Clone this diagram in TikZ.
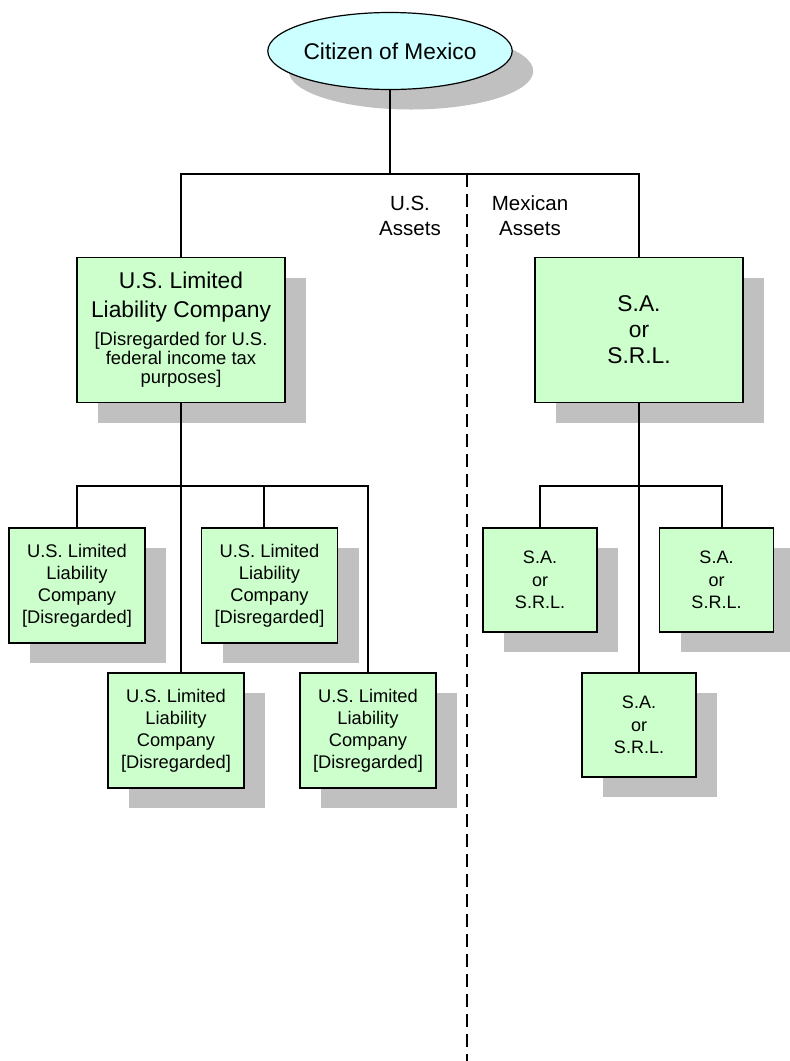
\documentclass[tikz,border=0pt]{standalone}
\usepackage{fontspec}
\setmainfont{Liberation Sans}
\usepackage{tikz}
\usetikzlibrary{shapes.geometric,shadows}

\definecolor{boxgreen}{HTML}{CCFFCC}
\definecolor{ovalcyan}{HTML}{CCFFFF}
\definecolor{shadowgray}{HTML}{C0C0C0}

\newcommand{\bigsz}{\fontsize{22.8}{29}\selectfont}

\tikzset{
	boxshadow/.style={drop shadow={shadow xshift=21pt, shadow yshift=-20pt, fill=shadowgray, opacity=1}},
	entity/.style={draw, line width=1.5pt, fill=boxgreen, align=center, inner sep=0pt, boxshadow},
	bigbox/.style={entity, minimum width=208pt, minimum height=145pt, font=\fontsize{18.4}{19}\selectfont},
	llcbox/.style={entity, minimum width=136pt, minimum height=115pt, font=\fontsize{18.3}{22}\selectfont},
	sabox/.style={entity, minimum width=114pt, minimum height=104pt, font=\fontsize{18}{22.5}\selectfont},
	assets/.style={align=center, inner sep=0pt, font=\fontsize{20.5}{25}\selectfont},
	link/.style={draw, line width=1.3pt},
	divider/.style={draw, line width=2pt, dash pattern=on 13pt off 7pt},
}

\begin{document}
\begin{tikzpicture}[x=1pt, y=-1pt]
		\useasboundingbox (0,0) rectangle (790,1061);
		
		\node[ellipse, draw, line width=1.2pt, fill=ovalcyan, minimum width=209pt, minimum height=77pt, inner sep=0pt, boxshadow, font=\fontsize{22.7}{27}\selectfont] (cit) at (390,51) {Citizen of Mexico};
		
		\node[bigbox] (llc) at (181,330) {{\bigsz U.S. Limited}\\[10pt]{\bigsz Liability Company}\\[9pt]{[Disregarded for U.S.}\\federal income tax\\purposes]};
		\node[bigbox, font=\fontsize{22.8}{26}\selectfont] (sa) at (639,330) {S.A.\\or\\S.R.L.};
		
		\node[llcbox] (llc1) at (77,585.5) {U.S. Limited\\Liability\\Company\\{[Disregarded]}};
		\node[llcbox] (llc2) at (269.5,585.5) {U.S. Limited\\Liability\\Company\\{[Disregarded]}};
		\node[llcbox] (llc3) at (176,730.5) {U.S. Limited\\Liability\\Company\\{[Disregarded]}};
		\node[llcbox] (llc4) at (368,730.5) {U.S. Limited\\Liability\\Company\\{[Disregarded]}};
		
		\node[sabox] (sa1) at (540,580) {S.A.\\or\\S.R.L.};
		\node[sabox] (sa2) at (716.5,580) {S.A.\\or\\S.R.L.};
		\node[sabox] (sa3) at (639,725) {S.A.\\or\\S.R.L.};
		
		\node[assets] (usa) at (410,216) {U.S.\\Assets};
		\node[assets] (mex) at (530,216) {Mexican\\Assets};
		
		\coordinate (topbus) at (0,174);
		\coordinate (lbus) at (0,486);
		\coordinate (l2) at (264,486);
		\coordinate (r2) at (722,486);
		\coordinate (divtop) at (467,174);
		\coordinate (divbot) at (467,1061);
		
		\path[divider] (divtop) -- (divbot);
		
		\path[link] (cit.south) -- (cit.south |- topbus);
		\path[link] (llc.north) |- (topbus -| sa.north) -- (sa.north);
		
		\path[link] (llc.south) -- (llc.south |- llc3.north);
		\path[link] (llc1.north) |- (lbus -| llc4.north) -- (llc4.north);
		\path[link] (l2) -- (l2 |- llc2.north);
		
		\path[link] (sa.south) -- (sa3.north);
		\path[link] (sa1.north) |- (r2) -- (r2 |- sa2.north);
\end{tikzpicture}
\end{document}
